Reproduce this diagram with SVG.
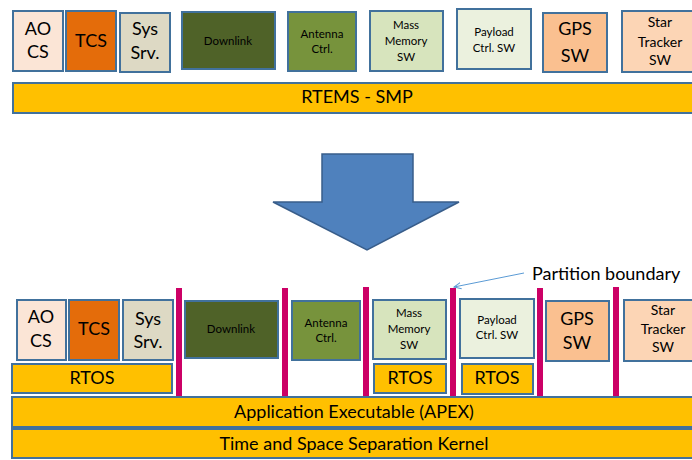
<svg xmlns="http://www.w3.org/2000/svg" width="692" height="460" viewBox="0 0 692 460">
<style>
rect.n{stroke:#41719C;stroke-width:2}
.bar{fill:#FFC000;stroke:#41719C;stroke-width:2}
.part{fill:#CC0066}
text{font-family:Lato,"Open Sans","Liberation Sans",sans-serif;fill:#000;text-anchor:middle}
.l{font-size:18px}
.m{font-size:14px}
.s{font-size:11.5px}
</style>
<defs>
<marker id="ah" viewBox="0 0 10 10" refX="9" refY="5" markerWidth="8" markerHeight="8" orient="auto" markerUnits="userSpaceOnUse">
<path d="M0,1 L9,5 L0,9" fill="none" stroke="#5B9BD5" stroke-width="1.2"/>
</marker>
</defs>
<rect width="692" height="460" fill="#fff"/>

<!-- Top row -->
<g id="top-aocs"><rect class="n" x="13" y="11" width="50" height="60" fill="#FBE5D6"/><text class="l" x="38" y="35">AO</text><text class="l" x="38" y="58">CS</text></g>
<g id="top-tcs"><rect class="n" x="66" y="11" width="50" height="60" fill="#E46C0A"/><text class="l" x="91" y="47">TCS</text></g>
<g id="top-sys"><rect class="n" x="120" y="13" width="50" height="59" fill="#DDD9C4"/><text class="l" x="145" y="35">Sys</text><text class="l" x="145" y="59">Srv.</text></g>
<g id="top-downlink"><rect class="n" x="182" y="12" width="93" height="57" fill="#4F6228"/><text class="s" x="228" y="45">Downlink</text></g>
<g id="top-antenna"><rect class="n" x="288" y="12" width="68" height="59" fill="#77933C"/><text class="s" x="322" y="38">Antenna</text><text class="s" x="322" y="53">Ctrl.</text></g>
<g id="top-mass"><rect class="n" x="370" y="11" width="73" height="60" fill="#D7E4BD"/><text class="s" x="406" y="29">Mass</text><text class="s" x="406" y="45">Memory</text><text class="s" x="406" y="61">SW</text></g>
<g id="top-payload"><rect class="n" x="457" y="9" width="74" height="60" fill="#EBF1DE"/><text class="s" x="494" y="36">Payload</text><text class="s" x="494" y="52">Ctrl. SW</text></g>
<g id="top-gps"><rect class="n" x="543" y="13" width="64" height="59" fill="#FAC090"/><text class="l" x="575" y="35">GPS</text><text class="l" x="575" y="62">SW</text></g>
<g id="top-star"><rect class="n" x="622" y="11" width="72" height="61" fill="#FCD5B5"/><text class="m" x="660" y="27">Star</text><text class="m" x="660" y="47">Tracker</text><text class="m" x="660" y="65">SW</text></g>
<g id="top-rtems"><rect class="bar" x="13" y="83" width="682" height="30"/><text class="l" x="357" y="103">RTEMS - SMP</text></g>

<!-- Big arrow -->
<g id="transform-arrow"><path d="M322,154 L413,154 L413,202 L459,202 L367,250 L273,202 L322,202 Z" fill="#4F81BD" stroke="#385D8A" stroke-width="1.5"/></g>

<!-- Bottom partitions -->
<g id="partitions">
<rect class="part" x="176" y="288" width="6" height="108"/>
<rect class="part" x="282" y="288" width="6" height="108"/>
<rect class="part" x="363" y="287" width="6" height="110"/>
<rect class="part" x="450" y="288" width="6" height="109"/>
<rect class="part" x="537" y="288" width="6" height="109"/>
<rect class="part" x="613" y="287" width="6" height="110"/>
</g>

<g id="bot-aocs"><rect class="n" x="17" y="300" width="49" height="60" fill="#FBE5D6"/><text class="l" x="41" y="323">AO</text><text class="l" x="41" y="347">CS</text></g>
<g id="bot-tcs"><rect class="n" x="69" y="300" width="50" height="60" fill="#E46C0A"/><text class="l" x="94" y="335">TCS</text></g>
<g id="bot-sys"><rect class="n" x="123" y="300" width="50" height="60" fill="#DDD9C4"/><text class="l" x="148" y="325">Sys</text><text class="l" x="148" y="348">Srv.</text></g>
<g id="bot-rtos1"><rect class="bar" x="12" y="364" width="160" height="29"/><text class="l" x="92" y="384">RTOS</text></g>
<g id="bot-downlink"><rect class="n" x="185" y="301" width="93" height="57" fill="#4F6228"/><text class="s" x="231" y="333">Downlink</text></g>
<g id="bot-antenna"><rect class="n" x="292" y="301" width="68" height="59" fill="#77933C"/><text class="s" x="326" y="327">Antenna</text><text class="s" x="326" y="342">Ctrl.</text></g>
<g id="bot-mass"><rect class="n" x="373" y="300" width="73" height="59" fill="#D7E4BD"/><text class="s" x="409" y="317">Mass</text><text class="s" x="409" y="333">Memory</text><text class="s" x="409" y="349">SW</text></g>
<g id="bot-rtos2"><rect class="bar" x="374" y="364" width="72" height="29"/><text class="l" x="410" y="384">RTOS</text></g>
<g id="bot-payload"><rect class="n" x="460" y="299" width="74" height="59" fill="#EBF1DE"/><text class="s" x="497" y="324">Payload</text><text class="s" x="497" y="339">Ctrl. SW</text></g>
<g id="bot-rtos3"><rect class="bar" x="462" y="364" width="71" height="30"/><text class="l" x="497" y="384">RTOS</text></g>
<g id="bot-gps"><rect class="n" x="546" y="301" width="63" height="60" fill="#FAC090"/><text class="l" x="577" y="325">GPS</text><text class="l" x="577" y="349">SW</text></g>
<g id="bot-star"><rect class="n" x="624" y="300" width="72" height="61" fill="#FCD5B5"/><text class="m" x="663" y="315">Star</text><text class="m" x="663" y="334">Tracker</text><text class="m" x="663" y="352">SW</text></g>
<g id="bot-apex"><rect class="bar" x="12" y="397" width="683" height="30"/><text class="l" x="354" y="418">Application Executable (APEX)</text></g>
<g id="bot-kernel"><rect class="bar" x="12" y="429" width="683" height="29"/><text class="l" x="354" y="450">Time and Space Separation Kernel</text></g>

<g id="label-partition"><text x="532" y="280" style="font-size:18px;text-anchor:start">Partition boundary</text></g>
<g id="connectors"><line x1="524" y1="273" x2="454" y2="287" stroke="#5B9BD5" stroke-width="1" marker-end="url(#ah)"/></g>
</svg>
